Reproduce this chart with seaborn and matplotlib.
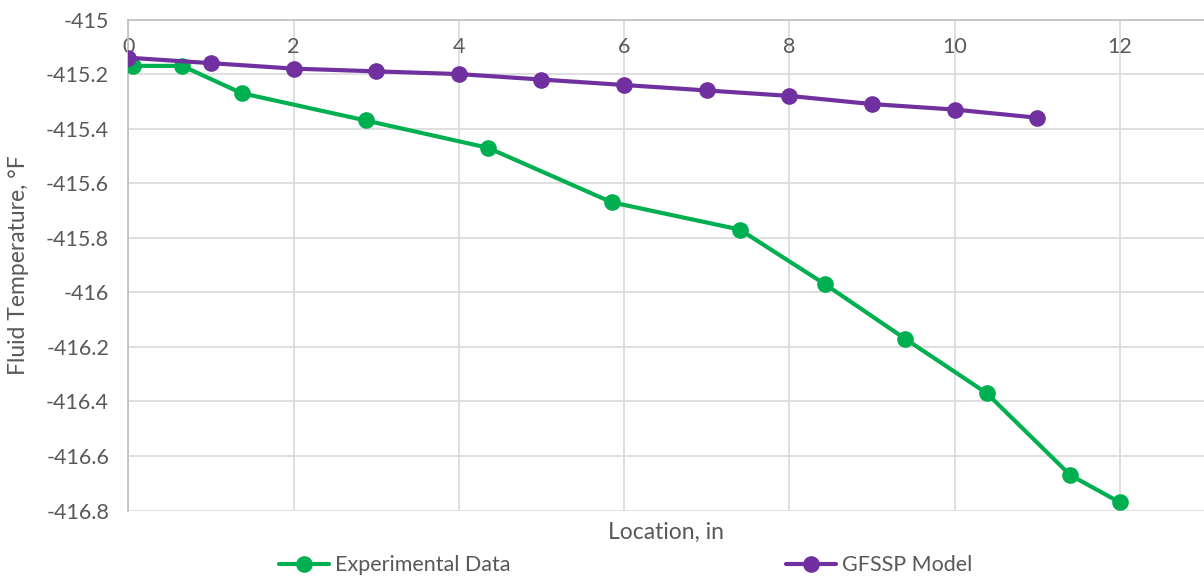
import numpy as np
import seaborn as sns
from matplotlib import pyplot as plt
from matplotlib.ticker import FuncFormatter

# data
exp_location = [0.05, 0.65, 1.37, 2.87, 4.35, 5.85, 7.4, 8.43, 9.4, 10.39, 11.4, 12.0]
exp_temp = [-415.17, -415.17, -415.27, -415.37, -415.47, -415.67, -415.77,
            -415.97, -416.17, -416.37, -416.67, -416.77]

gfssp_location = [0, 1, 2, 3, 4, 5, 6, 7, 8, 9, 10, 11]
gfssp_temp = [-415.14, -415.16, -415.18, -415.19, -415.20, -415.22, -415.24,
              -415.26, -415.28, -415.31, -415.33, -415.36]

x_ticks = [0, 2, 4, 6, 8, 10, 12]
y_ticks = [-415, -415.2, -415.4, -415.6, -415.8, -416, -416.2, -416.4, -416.6, -416.8]

GREEN = "#00B050"
PURPLE = "#7030A0"
GRID = "#D9D9D9"
TEXT = "#595959"

sns.set_style("white")
plt.rcParams['font.family'] = ['Lato', 'DejaVu Sans']

fig = plt.figure(figsize=(12.04, 5.81), dpi=100)
ax = fig.add_axes([0.1067, 0.1213, 0.8933, 0.8451])

sns.lineplot(x=exp_location, y=exp_temp, ax=ax, color=GREEN, marker='o',
             markersize=12, linewidth=3, markeredgewidth=0, sort=False,
             label="Experimental Data", zorder=3)
sns.lineplot(x=gfssp_location, y=gfssp_temp, ax=ax, color=PURPLE, marker='o',
             markersize=12, linewidth=3, markeredgewidth=0, sort=False,
             label="GFSSP Model", zorder=4)

ax.set_xlim(0, 13.02)
ax.set_ylim(-416.8, -415)
ax.set_xticks(x_ticks)
ax.set_yticks(y_ticks)
ax.yaxis.set_major_formatter(FuncFormatter(lambda v, p: "%g" % round(v, 1)))

ax.grid(True, color=GRID, linewidth=1.2)
ax.set_axisbelow(True)
for side in ['right', 'bottom']:
    ax.spines[side].set_visible(False)
ax.spines['left'].set_color("#BFBFBF")
ax.spines['top'].set_color("#BFBFBF")
ax.spines['left'].set_linewidth(1.2)
ax.spines['top'].set_linewidth(1.2)

# x tick labels sit just under the top axis line (Excel axis crossing)
ax.tick_params(axis='x', top=True, bottom=False, labeltop=True, labelbottom=False,
               length=0, pad=-27, labelsize=15.5, labelcolor=TEXT)
ax.tick_params(axis='y', length=0, pad=14, labelsize=15.5, labelcolor=TEXT)

ax.xaxis.set_label_position('bottom')
ax.set_xlabel("Location, in", fontsize=16.5, color=TEXT, labelpad=8)
ax.set_ylabel("Fluid Temperature, °F", fontsize=16.5, color=TEXT, labelpad=12)

ax.get_legend().remove()
handles, labels = ax.get_legend_handles_labels()
fig.legend(handles, labels, loc='center', bbox_to_anchor=(0.52, 0.027), ncol=2,
           frameon=False, fontsize=15.5, labelcolor=TEXT, handlelength=2.3,
           handletextpad=0.3, columnspacing=12.8)

fig.savefig("out.png", dpi=100)
